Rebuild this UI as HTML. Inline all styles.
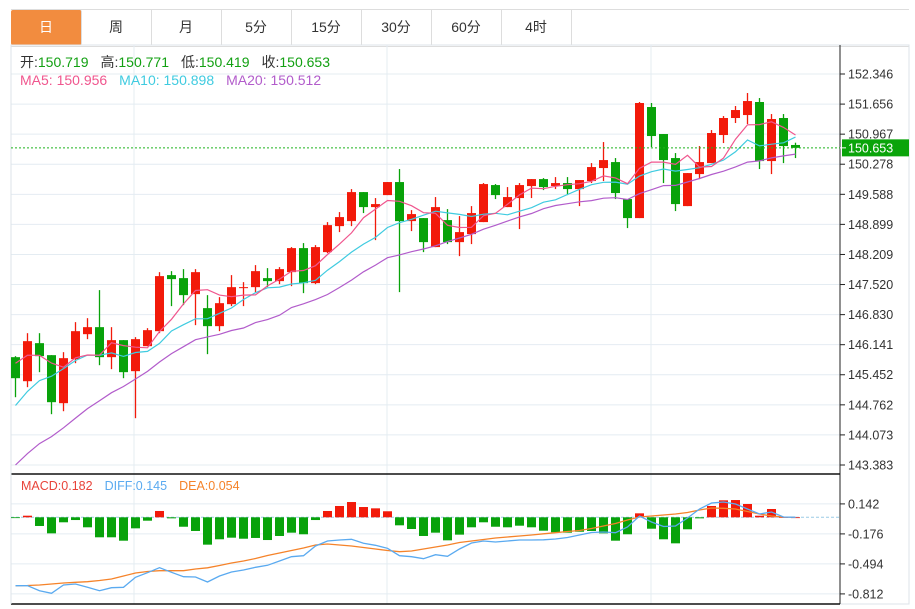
<!DOCTYPE html>
<html><head><meta charset="utf-8">
<style>
html,body{margin:0;padding:0;background:#fff;width:915px;height:609px;overflow:hidden;font-family:"Liberation Sans","Noto Sans CJK SC",sans-serif;}
#tabs{position:absolute;left:11px;top:9px;width:898px;height:36px;border-top:1px solid #ddd;border-bottom:1px solid #ddd;}
.tab{position:absolute;top:0;height:35px;width:70px;border-right:1px solid #ddd;text-align:center;line-height:35px;font-size:14px;color:#333;}
.tab.on{background:#f28c3f;color:#fff;border-radius:2px;}
svg{position:absolute;left:0;top:0;}
</style></head><body>
<div id="tabs">
<div class="tab on" style="left:0">日</div>
<div class="tab" style="left:70px">周</div>
<div class="tab" style="left:140px">月</div>
<div class="tab" style="left:210px">5分</div>
<div class="tab" style="left:280px">15分</div>
<div class="tab" style="left:350px">30分</div>
<div class="tab" style="left:420px">60分</div>
<div class="tab" style="left:490px">4时</div>
</div>
<svg id="chart" width="915" height="609" style="top:0"></svg>
<script>
const opens=[145.855,145.304,146.176,145.901,144.800,145.809,146.382,146.543,145.855,146.245,145.534,146.107,146.451,147.736,147.667,147.300,146.979,146.566,147.070,147.437,147.460,147.667,147.598,147.804,148.355,147.552,148.263,148.859,148.974,149.639,149.295,149.570,149.869,148.974,149.043,148.378,148.997,148.492,148.676,148.951,149.800,149.295,149.502,149.777,149.937,149.777,149.846,149.708,149.892,150.190,150.327,149.479,149.043,151.589,150.970,150.419,149.318,150.052,150.304,150.947,151.337,151.405,151.704,150.350,151.337,150.719];
const highs=[145.878,146.405,146.405,145.901,145.970,146.658,146.749,147.392,146.543,146.245,146.314,146.520,147.804,147.827,147.873,147.873,147.277,147.231,147.736,147.575,147.965,147.896,147.919,148.378,148.470,148.424,148.951,149.181,149.708,149.639,149.502,149.869,150.167,149.226,149.043,149.525,149.249,149.089,149.318,149.846,149.823,149.754,149.846,149.937,149.960,149.983,149.983,149.915,150.304,150.786,150.419,149.479,151.704,151.681,150.970,150.534,150.075,150.694,151.061,151.382,151.612,151.910,151.795,151.428,151.428,150.771];
const lows=[144.937,145.167,145.511,144.548,144.616,145.717,146.268,145.671,145.580,145.373,144.456,146.107,146.405,147.025,147.048,146.589,145.924,146.451,147.025,147.025,147.346,147.460,147.529,147.483,147.323,147.529,148.240,148.722,148.859,149.158,148.538,149.570,147.346,148.745,148.263,148.378,148.447,148.171,148.447,148.951,149.479,149.295,148.791,149.502,149.685,149.708,149.570,149.318,149.846,149.892,149.479,148.814,149.043,150.671,149.846,149.204,149.318,149.937,150.304,150.763,151.222,151.199,150.167,150.052,150.304,150.419];
const closes=[145.373,146.222,145.878,144.823,145.832,146.451,146.543,145.855,146.245,145.511,146.268,146.474,147.713,147.644,147.277,147.804,146.566,147.093,147.460,147.460,147.827,147.598,147.873,148.355,147.552,148.378,148.882,149.066,149.639,149.295,149.364,149.869,148.974,149.135,148.492,149.295,148.492,148.722,149.158,149.823,149.570,149.525,149.800,149.937,149.754,149.846,149.708,149.915,150.213,150.373,149.617,149.043,151.681,150.924,150.373,149.364,150.075,150.327,150.993,151.337,151.520,151.726,150.350,151.314,150.694,150.653];
const priorCloses=[141.0,141.3,141.6,141.8,142.0,142.2,142.3,142.5,142.7,142.8,143.0,143.4,143.8,144.1,144.6,145.3,145.9,145.7,146.3];
const priceTicks=["152.346","151.656","150.967","150.278","149.588","148.899","148.209","147.520","146.830","146.141","145.452","144.762","144.073","143.383"];
const macdHist=[-0.005,0.017,-0.092,-0.170,-0.053,-0.029,-0.106,-0.212,-0.212,-0.248,-0.117,-0.036,0.067,-0.011,-0.100,-0.145,-0.290,-0.233,-0.216,-0.227,-0.219,-0.241,-0.198,-0.163,-0.180,-0.029,0.067,0.120,0.162,0.109,0.095,0.064,-0.085,-0.124,-0.198,-0.163,-0.244,-0.184,-0.106,-0.053,-0.100,-0.106,-0.089,-0.106,-0.142,-0.159,-0.163,-0.153,-0.145,-0.170,-0.248,-0.180,0.042,-0.121,-0.233,-0.276,-0.127,-0.011,0.120,0.180,0.183,0.141,0.017,0.088,0.003,0.000];
const diffVals=[-0.725,-0.725,-0.778,-0.806,-0.718,-0.707,-0.742,-0.778,-0.746,-0.742,-0.636,-0.587,-0.534,-0.583,-0.630,-0.633,-0.686,-0.622,-0.580,-0.559,-0.530,-0.509,-0.463,-0.418,-0.407,-0.304,-0.251,-0.241,-0.233,-0.276,-0.297,-0.329,-0.407,-0.418,-0.439,-0.396,-0.413,-0.336,-0.272,-0.251,-0.262,-0.251,-0.241,-0.241,-0.238,-0.230,-0.214,-0.188,-0.161,-0.156,-0.163,-0.103,0.014,-0.050,-0.098,-0.092,-0.007,0.088,0.152,0.162,0.141,0.088,0.035,0.056,0.003,0.000];
const deaVals=[-0.725,-0.723,-0.718,-0.707,-0.696,-0.689,-0.683,-0.670,-0.654,-0.622,-0.590,-0.575,-0.566,-0.566,-0.566,-0.548,-0.535,-0.511,-0.484,-0.463,-0.437,-0.405,-0.378,-0.352,-0.325,-0.294,-0.283,-0.294,-0.304,-0.320,-0.336,-0.352,-0.365,-0.357,-0.336,-0.315,-0.294,-0.267,-0.251,-0.235,-0.219,-0.209,-0.198,-0.188,-0.175,-0.163,-0.151,-0.140,-0.119,-0.092,-0.066,-0.029,0.003,0.014,0.024,0.035,0.051,0.077,0.099,0.095,0.088,0.061,0.035,0.014,0.003,0.000];
const macdTicks=[0.142,-0.176,-0.494,-0.812];

const NS="http://www.w3.org/2000/svg";
const svg=document.getElementById('chart');
const X0=11,X1=840,TOP=45,MAINB=474,MACDB=604;
const pMax=152.346,pMin=143.383,yTop=74,yBot=465;
function xS(i){return 15.5+i*12;}
function yP(p){return yTop+(pMax-p)*(yBot-yTop)/(pMax-pMin);}
function yM(v){return 517.3-v*94.34;}
function mk(tag,attrs,parent){const e=document.createElementNS(NS,tag);for(const k in attrs)e.setAttribute(k,attrs[k]);(parent||svg).appendChild(e);return e;}
function tx(str,x,y,fill,size,anchor){const t=mk('text',{x:x,y:y,fill:fill,'font-size':size||12,'font-family':'Liberation Sans, Noto Sans CJK SC, sans-serif','text-anchor':anchor||'start'});t.textContent=str;return t;}

mk('rect',{x:X0,y:TOP,width:909-X0,height:MACDB-TOP,fill:'none',stroke:'#dde3e8'});
const g=mk('g',{});


priceTicks.forEach((t,k)=>{const y=yP(parseFloat(t));mk('line',{x1:X0,x2:X1,y1:y,y2:y,stroke:'#e4ecf2'},g);});
macdTicks.forEach(v=>{const y=yM(v);mk('line',{x1:X0,x2:X1,y1:y,y2:y,stroke:'#e4ecf2'},g);});
[134,387,651].forEach(x=>mk('line',{x1:x,x2:x,y1:TOP,y2:MACDB,stroke:'#e4ecf2'},g));
mk('line',{x1:X1,x2:X1,y1:TOP,y2:MACDB,stroke:'#222'});
mk('line',{x1:X0,x2:X1,y1:MAINB,y2:MAINB,stroke:'#111','stroke-width':1.5});
mk('line',{x1:X0,x2:X1,y1:MACDB,y2:MACDB,stroke:'#111','stroke-width':1.5});
mk('line',{x1:X0,x2:X0,y1:TOP,y2:MACDB,stroke:'#dde3e8'});
priceTicks.forEach(t=>{const y=yP(parseFloat(t));mk('line',{x1:X1,x2:X1+5,y1:y,y2:y,stroke:'#222'});
 const e=tx(t,848,y+4.5,'#333',12.5);
 
 });
macdTicks.forEach(v=>{const y=yM(v);mk('line',{x1:X1,x2:X1+5,y1:y,y2:y,stroke:'#222'});
 const e=tx(v.toFixed(3),848,y+4.5,'#333',12.5);
 
 });

const RED='#f21a0a',GREEN='#08a20a';
const cg=mk('g',{});


for(let i=0;i<closes.length;i++){
 const up=closes[i]>=opens[i],col=up?RED:GREEN,x=xS(i);
 const c=mk('g',{},cg);
 
 
 mk('line',{x1:x,x2:x,y1:yP(highs[i]),y2:yP(lows[i]),stroke:col,'stroke-width':1.3},c);
 const yt=yP(Math.max(opens[i],closes[i])),yb=yP(Math.min(opens[i],closes[i]));
 mk('rect',{x:x-4.5,y:yt,width:9,height:Math.max(1,yb-yt),fill:col},c);
}
function ma(n){const all=priorCloses.concat(closes),off=priorCloses.length,out=[];
 for(let i=0;i<closes.length;i++){let s=0;for(let k=0;k<n;k++)s+=all[off+i-k];out.push(s/n);}return out;}
function line(vals,ys,col,name,w){const d=vals.map((v,i)=>(i?'L':'M')+xS(i).toFixed(1)+','+ys(v).toFixed(1)).join('');
 const p=mk('path',{d:d,fill:'none',stroke:col,'stroke-width':w||1.2});
 
 }
line(ma(20),yP,'#b25ccb','ma20-line');
line(ma(10),yP,'#3fcbe0','ma10-line');
line(ma(5),yP,'#f0568e','ma5-line');
const cy=yP(closes[closes.length-1]);
const cl=mk('line',{x1:X0,x2:X1,y1:cy,y2:cy,stroke:'#1db31d','stroke-dasharray':'2,2'});


const cb=mk('rect',{x:842,y:cy-8.5,width:67,height:17,fill:'#0aa40a'});


mk('line',{x1:X1,x2:X1+6,y1:cy,y2:cy,stroke:'#fff'});
tx(closes[closes.length-1].toFixed(3),848,cy+4.5,'#fff',12.5);

mk('line',{x1:X0,x2:X1,y1:yM(0),y2:yM(0),stroke:'#9ccbe6','stroke-dasharray':'3,2'});
const hg=mk('g',{});


macdHist.forEach((v,i)=>{const y0=yM(0),y1=yM(v);
 const r=mk('rect',{x:xS(i)-4.5,y:Math.min(y0,y1),width:9,height:Math.max(0.8,Math.abs(y1-y0)),fill:v>=0?RED:GREEN},hg);
 
 });
line(deaVals,yM,'#f5832a','dea-line',1.3);
line(diffVals,yM,'#5aaaf0','diff-line',1.3);
</script>
<svg width="915" height="609" style="pointer-events:none">
<g font-family="Liberation Sans, Noto Sans CJK SC, sans-serif" font-size="14">
<text x="20" y="67"><tspan fill="#333">开:</tspan><tspan fill="#12a012">150.719</tspan><tspan fill="#333" dx="12">高:</tspan><tspan fill="#12a012">150.771</tspan><tspan fill="#333" dx="12">低:</tspan><tspan fill="#12a012">150.419</tspan><tspan fill="#333" dx="12">收:</tspan><tspan fill="#12a012">150.653</tspan></text>
<text x="20" y="85"><tspan fill="#f0568e">MA5: 150.956</tspan><tspan fill="#3fcbe0" dx="12">MA10: 150.898</tspan><tspan fill="#b25ccb" dx="12">MA20: 150.512</tspan></text>
<text x="21" y="490" font-size="12.5"><tspan fill="#e8443a">MACD:0.182</tspan><tspan fill="#5aaaf0" dx="12">DIFF:0.145</tspan><tspan fill="#f5832a" dx="12">DEA:0.054</tspan></text>
</g></svg>
</body></html>
